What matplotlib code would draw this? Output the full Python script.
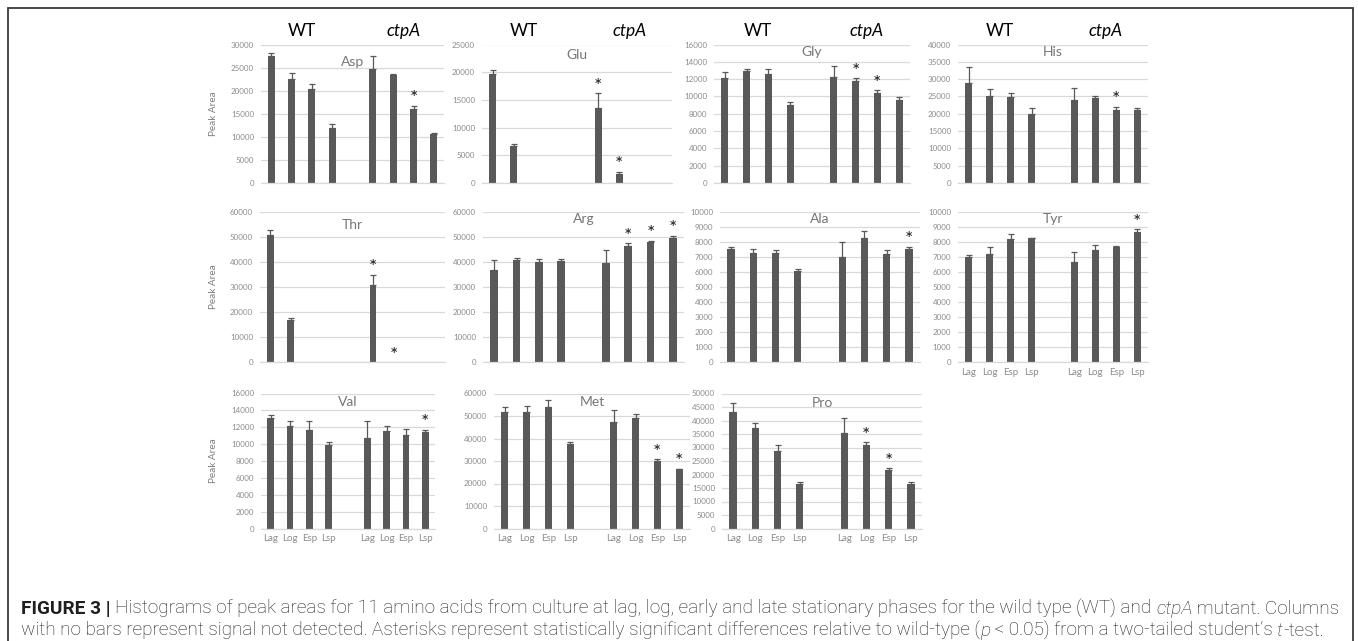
import matplotlib
matplotlib.use("Agg")
import matplotlib.pyplot as plt
import matplotlib.transforms as mtransforms
from matplotlib.patches import Rectangle
import numpy as np

plt.rcParams['font.family'] = ['Lato', 'DejaVu Sans']

W, H = 1358, 641

phases = ["Lag", "Log", "Esp", "Lsp"]

# peak area means and SD (None = signal not detected)
asp_wt = [27600, 22600, 20300, 12000]
asp_wt_sd = [600, 1200, 1100, 700]
asp_ct = [24800, 23300, 16100, 10700]
asp_ct_sd = [2800, 300, 600, 150]
asp_sig = [0, 0, 1, 0]

glu_wt = [19700, 6700, None, None]
glu_wt_sd = [700, 400, 0, 0]
glu_ct = [13600, 1600, None, None]
glu_ct_sd = [2600, 400, 0, 0]
glu_sig = [1, 1, 0, 0]

gly_wt = [12100, 12900, 12600, 9000]
gly_wt_sd = [700, 300, 600, 300]
gly_ct = [12200, 11800, 10400, 9600]
gly_ct_sd = [1300, 300, 300, 300]
gly_sig = [0, 1, 1, 0]

his_wt = [29000, 25200, 24800, 20000]
his_wt_sd = [4500, 2000, 1200, 1800]
his_ct = [23900, 24600, 21200, 21000]
his_ct_sd = [3600, 400, 800, 800]
his_sig = [0, 0, 1, 0]

thr_wt = [51000, 16900, None, None]
thr_wt_sd = [1900, 800, 0, 0]
thr_ct = [31000, None, None, None]
thr_ct_sd = [4000, 0, 0, 0]
thr_sig = [1, 1, 0, 0]

arg_wt = [37000, 41000, 40200, 40500]
arg_wt_sd = [4000, 500, 1100, 800]
arg_ct = [39600, 46500, 48000, 49600]
arg_ct_sd = [5200, 1100, 600, 1000]
arg_sig = [0, 1, 1, 1]

ala_wt = [7520, 7280, 7280, 6100]
ala_wt_sd = [180, 280, 200, 100]
ala_ct = [7000, 8250, 7200, 7550]
ala_ct_sd = [1000, 500, 250, 150]
ala_sig = [0, 0, 0, 1]

tyr_wt = [7000, 7200, 8200, 8250]
tyr_wt_sd = [160, 450, 350, 30]
tyr_ct = [6650, 7450, 7650, 8650]
tyr_ct_sd = [700, 350, 100, 200]
tyr_sig = [0, 0, 0, 1]

val_wt = [13100, 12100, 11700, 9950]
val_wt_sd = [400, 700, 1100, 320]
val_ct = [10700, 11600, 11100, 11400]
val_ct_sd = [2100, 500, 700, 300]
val_sig = [0, 0, 0, 1]

met_wt = [51800, 51800, 53900, 37600]
met_wt_sd = [2400, 2600, 3100, 900]
met_ct = [47500, 49100, 30200, 26300]
met_ct_sd = [5000, 1900, 600, 300]
met_sig = [0, 0, 1, 1]

pro_wt = [43000, 37200, 28600, 16500]
pro_wt_sd = [3600, 1800, 2300, 900]
pro_ct = [35500, 31000, 21800, 16300]
pro_ct_sd = [5500, 900, 600, 1000]
pro_sig = [0, 1, 1, 0]

# name, data, ymax, step, (x0, x1, ytop, yzero) in px, title y px, xlabels, ylabel, group labels
panels = [
    ("Asp", asp_wt, asp_wt_sd, asp_ct, asp_ct_sd, asp_sig, 30000, 5000, (261, 444, 44.5, 183), 62, False, True, True),
    ("Glu", glu_wt, glu_wt_sd, glu_ct, glu_ct_sd, glu_sig, 25000, 5000, (482, 672, 44.5, 183), 55, False, False, True),
    ("Gly", gly_wt, gly_wt_sd, gly_ct, gly_ct_sd, gly_sig, 16000, 2000, (714, 910, 44.5, 183), 52, False, False, True),
    ("His", his_wt, his_wt_sd, his_ct, his_ct_sd, his_sig, 40000, 5000, (958, 1148, 44.5, 183), 52, False, False, True),
    ("Thr", thr_wt, thr_wt_sd, thr_ct, thr_ct_sd, thr_sig, 60000, 10000, (260, 445, 212, 362), 225, False, True, False),
    ("Arg", arg_wt, arg_wt_sd, arg_ct, arg_ct_sd, arg_sig, 60000, 10000, (483, 684, 212, 362), 219, False, False, False),
    ("Ala", ala_wt, ala_wt_sd, ala_ct, ala_ct_sd, ala_sig, 10000, 1000, (720, 920, 212, 362), 219, False, False, False),
    ("Tyr", tyr_wt, tyr_wt_sd, tyr_ct, tyr_ct_sd, tyr_sig, 10000, 1000, (958, 1148, 212, 362), 219, True, False, False),
    ("Val", val_wt, val_wt_sd, val_ct, val_ct_sd, val_sig, 16000, 2000, (261, 435, 393.5, 528.5), 402, True, True, False),
    ("Met", met_wt, met_wt_sd, met_ct, met_ct_sd, met_sig, 60000, 10000, (494, 690, 393.5, 528.5), 402, True, False, False),
    ("Pro", pro_wt, pro_wt_sd, pro_ct, pro_ct_sd, pro_sig, 50000, 5000, (722, 922, 393.5, 528.5), 403, True, False, False),
]

bar_color = "#595959"
grid_color = "#d9d9d9"
tick_color = "#8c8c8c"

fig = plt.figure(figsize=(W / 100, H / 100), dpi=100)

wt_x = np.arange(4)
ct_x = np.arange(5, 9)

for (name, wt, wt_sd, ct, ct_sd, sig, ymax, step, box, title_y,
     show_x, show_y, show_groups) in panels:
    x0, x1, ytop, yzero = box
    ax = fig.add_axes([x0 / W, 1 - yzero / H, (x1 - x0) / W, (yzero - ytop) / H])
    ax.set_xlim(-0.5, 8.5)
    ax.set_ylim(0, ymax)
    ax.set_yticks(np.arange(0, ymax + step, step))
    ax.yaxis.grid(True, color=grid_color, lw=0.9)
    ax.set_axisbelow(True)
    for s in ["top", "right", "left"]:
        ax.spines[s].set_visible(False)
    ax.spines["bottom"].set_color(grid_color)
    ax.spines["bottom"].set_linewidth(0.9)
    ax.tick_params(axis="y", length=0, pad=5, labelsize=5.8, labelcolor=tick_color)
    ax.tick_params(axis="x", length=0, pad=4, labelsize=7, labelcolor=tick_color)
    if show_x:
        ax.set_xticks(list(wt_x) + list(ct_x))
        ax.set_xticklabels(phases + phases)
    else:
        ax.set_xticks([])

    for xs, vals, sds in [(wt_x, wt, wt_sd), (ct_x, ct, ct_sd)]:
        for xi, v, sd in zip(xs, vals, sds):
            if v is None:
                continue
            ax.bar(xi, v, width=0.33, color=bar_color, zorder=2)
            ax.errorbar(xi, v, yerr=[[0], [sd]], fmt="none", ecolor=bar_color,
                        elinewidth=0.9, capsize=2.4, capthick=0.9, zorder=3)

    for i, flag in enumerate(sig):
        if flag:
            v = ct[i] if ct[i] is not None else 0
            sd = ct_sd[i] if ct[i] is not None else 0
            ax.annotate("*", xy=(ct_x[i], v + sd), xytext=(0, 5),
                        textcoords="offset points", ha="center", va="center",
                        fontsize=14, color="#1a1a1a")

    fig.text((x0 + x1) / 2 / W, 1 - title_y / H, name, ha="center", va="center",
             fontsize=10, color="#767676")
    if show_y:
        fig.text(214 / W, 1 - (ytop + yzero) / 2 / H, "Peak Area", rotation=90,
                 ha="center", va="center", fontsize=7.2, color="#7f7f7f")
    if show_groups:
        tr = mtransforms.blended_transform_factory(ax.transData, fig.transFigure)
        ax.text(1.5, 1 - 31 / H, "WT", transform=tr, ha="center", va="center",
                fontsize=12.5, color="black")
        ax.text(6.5, 1 - 31 / H, "ctpA", transform=tr, ha="center", va="center",
                fontsize=12.5, color="black", fontstyle="italic")

# frame around the figure panel
fig.patches.append(Rectangle((8 / W, -0.2), (1353 - 8) / W, 1 - 8 / H + 0.2,
                             transform=fig.transFigure, fill=False,
                             ec="#3a3a3a", lw=1.3))

# caption with mixed styles
cap_font = ["Roboto", "DejaVu Sans"]
line1 = [("FIGURE 3 | ", "bold", "normal"),
         ("Histograms of peak areas for 11 amino acids from culture at lag, log, early and late "
          "stationary phases for the wild type (WT) and ", "light", "normal"),
         ("ctpA", "light", "italic"),
         (" mutant. Columns", "light", "normal")]
line2 = [("with no bars represent signal not detected. Asterisks represent statistically "
          "significant differences relative to wild-type (", "light", "normal"),
         ("p", "light", "italic"),
         (" < 0.05) from a two-tailed student\u2019s ", "light", "normal"),
         ("t", "light", "italic"),
         ("-test.", "light", "normal")]

renderer = fig.canvas.get_renderer()


def draw_runs(runs, x, y, size):
    for txt, weight, style in runs:
        t = fig.text(x / W, 1 - y / H, txt, fontsize=size, fontweight=weight,
                     fontstyle=style, family=cap_font, ha="left", va="center",
                     color="#1e1e1e")
        x += t.get_window_extent(renderer=renderer).width
    return x


def runs_width(runs, size):
    tmp = []
    total = 0
    for txt, weight, style in runs:
        t = fig.text(0, 0, txt, fontsize=size, fontweight=weight, fontstyle=style,
                     family=cap_font)
        total += t.get_window_extent(renderer=renderer).width
        tmp.append(t)
    for t in tmp:
        t.remove()
    return total


cap_size = 10 * (1338 - 21) / runs_width(line1, 10)
draw_runs(line1, 21, 609, cap_size)
draw_runs(line2, 21, 631, cap_size)

fig.savefig("out.png", dpi=100)
